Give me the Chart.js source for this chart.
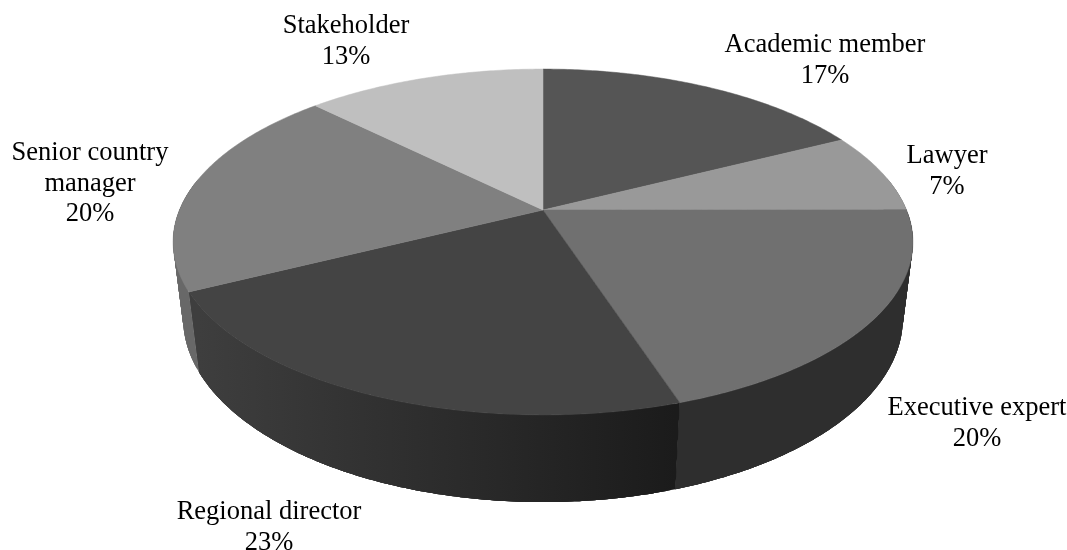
<!DOCTYPE html>
<html>
<head>
<meta charset="utf-8">
<style>html,body{margin:0;padding:0;background:#fff;overflow:hidden}canvas{display:block}</style>
<script src="https://cdn.jsdelivr.net/npm/chart.js@4/dist/chart.umd.min.js"></script>
</head>
<body>
<canvas id="c" width="1067" height="550"></canvas>
<script>
const categories = ['Academic member', 'Lawyer', 'Executive expert', 'Regional director', 'Senior country\nmanager', 'Stakeholder'];
const shares = [17.49, 7.49, 20.0, 22.6, 19.9, 12.52];
const topColors = ['#555555', '#999999', '#707070', '#444444', '#808080', '#bfbfbf'];
const wallFrom = ['#555555', '#787878', '#2e2e2e', '#1b1b1b', '#686868', '#969696'];
const wallTo   = ['#555555', '#787878', '#2e2e2e', '#3e3e3e', '#747474', '#969696'];
const labelAnchors = [[825,45],[947,156],[977,408],[269,512],[90,153],[346,26]];

const apex = {x:543, y:210};
const topRim = {a:363.5, b:167, q:0.185, dy:0};
const baseRim = {a:354, b:178, q:0.18, dy:75};
function project(rim, t){
  const u = Math.sin(t), v = Math.cos(t), d = 1 + rim.q * v;
  return [apex.x + rim.a * u / d, apex.y + rim.dy - rim.b * v / d];
}
const plugin3d = {
  id: 'perspectivePie',
  beforeDatasetsDraw(chart){
    const ctx = chart.ctx, arcs = chart.getDatasetMeta(0).data;
    const turn = a => a + Math.PI / 2;
    const step = Math.PI / 180 / 1.5;
    ctx.save();
    // side wall: strips overlap the next one so no seams show
    arcs.forEach((arc, i) => {
      const s = turn(arc.startAngle), e = turn(arc.endAngle);
      const n = Math.max(2, Math.ceil((e - s) / step));
      const g = ctx.createLinearGradient(project(baseRim, s)[0], 0, project(baseRim, Math.min(e, Math.PI * 1.55))[0], 0);
      g.addColorStop(0, wallFrom[i]);
      g.addColorStop(1, wallTo[i]);
      ctx.fillStyle = g;
      for (let k = 0; k < n; k++){
        const t0 = s + (e - s) * k / n, t1 = Math.min(e, s + (e - s) * (k + 4) / n);
        if (Math.cos(t0) > 0.15 && Math.cos(t1) > 0.15) continue;
        const pts = [];
        const sub = 4;
        for (let m = 0; m <= sub; m++) pts.push(project(topRim, t0 + (t1 - t0) * m / sub));
        for (let m = sub; m >= 0; m--) pts.push(project(baseRim, t0 + (t1 - t0) * m / sub));
        ctx.beginPath();
        pts.forEach((q, m) => m ? ctx.lineTo(q[0], q[1]) : ctx.moveTo(q[0], q[1]));
        ctx.closePath();
        ctx.fill();
      }
    });
    // top face
    arcs.forEach((arc, i) => {
      const s = turn(arc.startAngle), e = turn(arc.endAngle);
      const n = Math.max(2, Math.ceil((e - s) / step));
      ctx.beginPath();
      ctx.moveTo(apex.x, apex.y);
      for (let k = 0; k <= n; k++){
        const q = project(topRim, s + (e - s) * k / n);
        ctx.lineTo(q[0], q[1]);
      }
      ctx.closePath();
      ctx.fillStyle = arc.options.backgroundColor;
      ctx.strokeStyle = arc.options.backgroundColor;
      ctx.lineWidth = 0.5;
      ctx.fill(); ctx.stroke();
    });
    // labels
    ctx.fillStyle = '#000';
    ctx.font = '26.5px "Liberation Serif", serif';
    ctx.textAlign = 'center';
    ctx.textBaseline = 'middle';
    chart.data.labels.forEach((label, i) => {
      const lines = label.split('\n').concat(Math.round(shares[i]) + '%');
      lines.forEach((line, j) => ctx.fillText(line, labelAnchors[i][0], labelAnchors[i][1] + j * 30.7));
    });
    ctx.restore();
    return false;
  }
};
new Chart(document.getElementById('c'), {
  type: 'pie',
  data: { labels: categories, datasets: [{ data: shares, backgroundColor: topColors, borderWidth: 0 }] },
  options: {
    responsive: false,
    animation: false,
    plugins: { legend: { display: false }, tooltip: { enabled: false } }
  },
  plugins: [plugin3d]
});
</script>
</body>
</html>
